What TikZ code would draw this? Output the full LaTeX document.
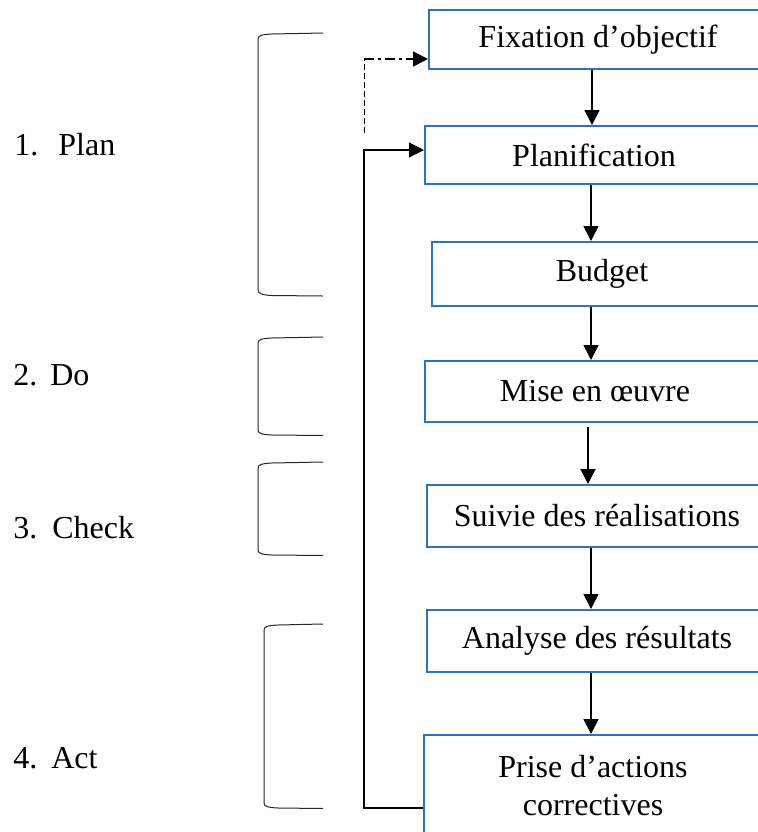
\documentclass[tikz,border=0pt]{standalone}
\usepackage{fontspec}
\setmainfont{Liberation Serif}
\usetikzlibrary{arrows.meta}
\definecolor{boxblue}{RGB}{46,117,182}
\begin{document}
\fontsize{16pt}{19pt}\selectfont
\begin{tikzpicture}[x=0.5pt,y=-0.5pt,
  stage/.style={draw=boxblue,line width=1pt,rectangle,inner sep=0pt},
  caption/.style={inner sep=0pt,align=center,font=\fontsize{16pt}{19pt}\selectfont},
  flow/.style={line width=0.8pt,-{Triangle[length=7.5pt,width=7.5pt]}},
  loopback/.style={line width=0.6pt,-{Triangle[length=7.5pt,width=7.5pt]}},
  bracket/.style={line width=0.5pt,black!85},
  phase/.style={anchor=base west,inner sep=0pt,font=\fontsize{16pt}{19pt}\selectfont}]
\useasboundingbox (0,0) rectangle (757,832);

% process step frames (running past the right margin)
\node[stage,minimum width=185.5pt,minimum height=29.5pt] (fix)     at (614.5,39.5) {};
\node[stage,minimum width=187.5pt,minimum height=29pt]   (plan)    at (612.5,155)  {};
\node[stage,minimum width=184pt,minimum height=32pt]     (budget)  at (616,274)    {};
\node[stage,minimum width=187.5pt,minimum height=30.5pt] (mise)    at (612.5,391.5){};
\node[stage,minimum width=186.5pt,minimum height=31pt]   (suivi)   at (613.5,516)  {};
\node[stage,minimum width=186.5pt,minimum height=31pt]   (analyse) at (613.5,641)  {};
\node[stage,minimum width=188pt,minimum height=55pt]     (prise)   at (612,790)    {};

% step captions
\node[caption] (fixt)     at (598,39.5)  {Fixation d’objectif};
\node[caption] (plant)    at (594,155)   {Planification};
\node[caption] (budgett)  at (602,274)   {Budget};
\node[caption] (miset)    at (595,391.5) {Mise en œuvre};
\node[caption] (suivit)   at (597,516)   {Suivie des réalisations};
\node[caption] (analyset) at (597,641)   {Analyse des résultats};
\node[caption] (priset)   at (593,786)   {Prise d’actions\\correctives};

% vertical flow
\coordinate (xa) at (592,0);
\coordinate (xb) at (591,0);
\coordinate (xc) at (588,0);
\draw[flow] (fix.south -| xa) -- (plan.north -| xa);
\draw[flow] (plan.south -| xb) -- (budget.north -| xb);
\draw[flow] (budget.south -| xb) -- (mise.north -| xb);
\draw[flow,shorten <=2pt] (mise.south -| xc) -- (suivi.north -| xc);
\draw[flow] (suivi.south -| xb) -- (analyse.north -| xb);
\draw[flow] (analyse.south -| xb) -- (prise.north -| xb);

% feedback loop
\coordinate (f1) at (364,808);
\coordinate (f2) at (364,150);
\draw[loopback] (prise.west |- f1) -- (f1) -- (f2) -- (plan.west |- f2);
\coordinate (d1) at (364,133);
\coordinate (d2) at (364,59);
\draw[line width=0.5pt,dash pattern=on 3pt off 1.5pt] (d1) -- (d2);
\draw[line width=0.7pt,dash pattern=on 5pt off 2pt on 1.5pt off 2pt,-{Triangle[length=7.5pt,width=7.5pt]}] (d2) -- (fix.west |- d2);

% phase brackets
\draw[bracket] (323,33) -- (272,34) .. controls (262,34.5) and (258,35.5) .. (258,39)
  -- (258,290) .. controls (258,293.5) and (262,295) .. (272,295.5) -- (323,296);
\draw[bracket] (323,337) -- (272,338) .. controls (262,338.5) and (258,339.5) .. (258,343)
  -- (258,430) .. controls (258,433.5) and (262,434.5) .. (272,435) -- (323,435.5);
\draw[bracket] (323,462) -- (272,463) .. controls (262,463.5) and (258,464.5) .. (258,468)
  -- (258,550) .. controls (258,553.5) and (262,554.5) .. (272,555) -- (323,555.5);
\draw[bracket] (323,624) -- (278,625) .. controls (268,625.5) and (264,626.5) .. (264,630)
  -- (264,803) .. controls (264,806.5) and (268,807.5) .. (278,808) -- (323,808.5);

% phase labels
\node[phase] (p1) at (14,155) {\makebox[22pt][l]{1.}Plan};
\node[phase] (p2) at (13,385) {\makebox[18.5pt][l]{2.}Do};
\node[phase] (p3) at (13,538) {\makebox[19.5pt][l]{3.}Check};
\node[phase] (p4) at (13,768) {\makebox[19pt][l]{4.}Act};
\end{tikzpicture}
\end{document}
